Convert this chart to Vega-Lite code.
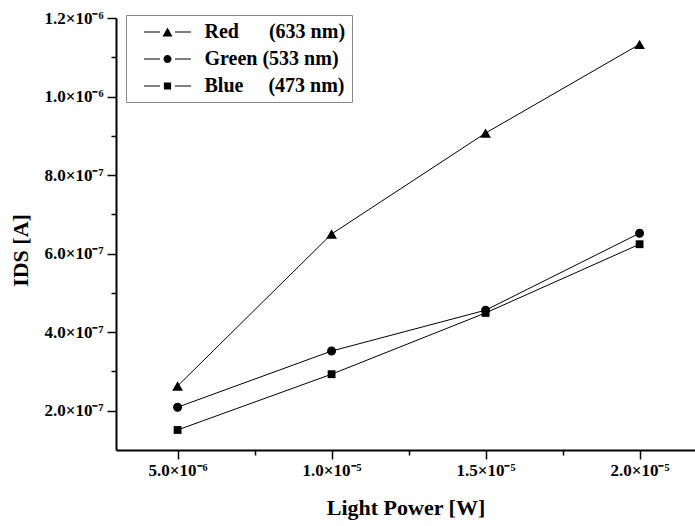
{
  "$schema": "https://vega.github.io/schema/vega-lite/v6.json",
  "width": 579,
  "height": 432,
  "autosize": {"type": "none"},
  "padding": {"left": 116, "top": 18, "right": 0, "bottom": 76},
  "background": "white",
  "config": {
    "view": {"stroke": null},
    "font": "Liberation Serif",
    "axis": {
      "domainColor": "black",
      "domainWidth": 2,
      "tickColor": "black",
      "tickWidth": 1.5,
      "grid": false,
      "labelFont": "Liberation Serif",
      "labelFontWeight": "bold",
      "labelFontSize": 17,
      "labelColor": "black",
      "titleFont": "Liberation Serif",
      "titleFontWeight": "bold",
      "titleFontSize": 22,
      "titleColor": "black"
    }
  },
  "data": {
    "values": [
      {"series": "Red", "power": 5e-6, "current": 2.63e-7},
      {"series": "Red", "power": 1e-5, "current": 6.5e-7},
      {"series": "Red", "power": 1.5e-5, "current": 9.07e-7},
      {"series": "Red", "power": 2e-5, "current": 1.133e-6},
      {"series": "Green", "power": 5e-6, "current": 2.09e-7},
      {"series": "Green", "power": 1e-5, "current": 3.52e-7},
      {"series": "Green", "power": 1.5e-5, "current": 4.56e-7},
      {"series": "Green", "power": 2e-5, "current": 6.52e-7},
      {"series": "Blue", "power": 5e-6, "current": 1.51e-7},
      {"series": "Blue", "power": 1e-5, "current": 2.93e-7},
      {"series": "Blue", "power": 1.5e-5, "current": 4.49e-7},
      {"series": "Blue", "power": 2e-5, "current": 6.24e-7}
    ]
  },
  "encoding": {
    "x": {
      "field": "power",
      "type": "quantitative",
      "scale": {"domain": [3e-6, 2.18e-5], "nice": false, "zero": false},
      "axis": {
        "title": "Light Power [W]",
        "values": [5e-6, 7.5e-6, 1e-5, 1.25e-5, 1.5e-5, 1.75e-5, 2e-5],
        "labelExpr": "abs(datum.value/5e-6 - round(datum.value/5e-6)) > 0.1 ? '' : (datum.value < 7e-6 ? format(datum.value*1e6, '.1f') + '×10⁻⁶' : format(datum.value*1e5, '.1f') + '×10⁻⁵')",
        "tickSize": {"condition": {"test": "abs(datum.value/5e-6 - round(datum.value/5e-6)) < 0.1", "value": 9}, "value": 5},
        "labelPadding": 3,
        "titlePadding": 19
      }
    },
    "y": {
      "field": "current",
      "type": "quantitative",
      "scale": {"domain": [1e-7, 1.2e-6], "nice": false, "zero": false},
      "axis": {
        "title": "IDS [A]",
        "values": [2e-7, 3e-7, 4e-7, 5e-7, 6e-7, 7e-7, 8e-7, 9e-7, 1e-6, 1.1e-6, 1.2e-6],
        "labelExpr": "round(datum.value/1e-7) % 2 == 1 ? '' : (datum.value > 9.5e-7 ? format(datum.value*1e6, '.1f') + '×10⁻⁶' : format(datum.value*1e7, '.1f') + '×10⁻⁷')",
        "tickSize": {"condition": {"test": "round(datum.value/1e-7) % 2 == 0", "value": 9}, "value": 5},
        "labelPadding": 4,
        "titleX": -84,
        "titleY": 232
      }
    }
  },
  "resolve": {"scale": {"shape": "independent"}, "legend": {"shape": "independent"}},
  "layer": [
    {
      "mark": {"type": "point", "filled": true, "color": "black", "size": 0},
      "encoding": {
        "shape": {
          "field": "series",
          "type": "nominal",
          "scale": {
            "domain": ["Red", "Green", "Blue"],
            "range": [
              "M-2.35,-0.05H-0.75V0.05H-2.35ZM0.75,-0.05H2.35V0.05H0.75ZM0,-0.44L0.5,0.44L-0.5,0.44Z",
              "M-2.35,-0.05H-0.75V0.05H-2.35ZM0.75,-0.05H2.35V0.05H0.75ZM0.4,0A0.4,0.4 0 1,1 -0.4,0A0.4,0.4 0 1,1 0.4,0Z",
              "M-2.35,-0.05H-0.75V0.05H-2.35ZM0.75,-0.05H2.35V0.05H0.75ZM-0.36,-0.36H0.36V0.36H-0.36Z"
            ]
          },
          "legend": {
            "title": null,
            "orient": "none",
            "legendX": 10,
            "legendY": -3,
            "padding": 6,
            "strokeColor": "#888888",
            "fillColor": "white",
            "labelFont": "Liberation Serif",
            "labelFontWeight": "bold",
            "labelFontSize": 20,
            "labelColor": "black",
            "labelOffset": 26,
            "symbolOffset": 24.5,
            "rowPadding": 6,
            "symbolSize": 400,
            "symbolOpacity": 1,
            "symbolFillColor": "black",
            "labelExpr": "datum.value == 'Red' ? 'Red\u00a0\u00a0\u00a0\u00a0\u00a0\u00a0(633 nm)' : datum.value == 'Green' ? 'Green (533 nm)' : 'Blue\u00a0\u00a0\u00a0\u00a0\u00a0(473 nm)'"
          }
        }
      }
    },
    {
      "mark": {"type": "line", "color": "black", "strokeWidth": 1},
      "encoding": {"detail": {"field": "series"}}
    },
    {
      "mark": {"type": "point", "filled": true, "color": "black", "opacity": 1, "size": 115},
      "encoding": {
        "shape": {
          "field": "series",
          "type": "nominal",
          "scale": {
            "domain": ["Red", "Green", "Blue"],
            "range": [
              "M0,-0.866L1,0.866L-1,0.866Z",
              "M0.84,0A0.84,0.84 0 1,1 -0.84,0A0.84,0.84 0 1,1 0.84,0Z",
              "M-0.73,-0.73H0.73V0.73H-0.73Z"
            ]
          },
          "legend": null
        }
      }
    }
  ]
}
